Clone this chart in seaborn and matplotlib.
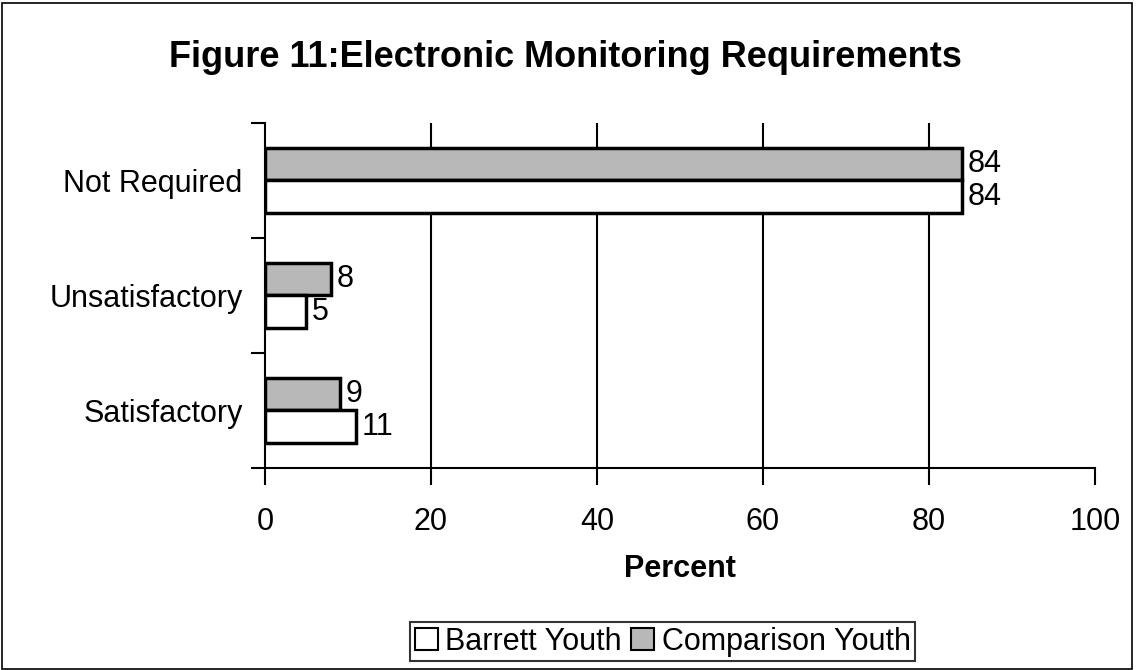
import pandas as pd
import seaborn as sns
import matplotlib.pyplot as plt
from matplotlib.patches import Patch, Rectangle

categories = ["Not Required", "Unsatisfactory", "Satisfactory"]
barrett = [84, 5, 11]
comparison = [84, 8, 9]
groups = ["Comparison Youth", "Barrett Youth"]
x_ticks = [0, 20, 40, 60, 80, 100]

sns.set_style("white")
plt.rcParams["font.family"] = ["Liberation Sans", "DejaVu Sans"]
plt.rcParams["text.color"] = "black"
plt.rcParams["xtick.color"] = "black"
plt.rcParams["ytick.color"] = "black"
plt.rcParams["axes.labelcolor"] = "black"

df = pd.DataFrame({
    "category": categories * 2,
    "group": [groups[0]] * 3 + [groups[1]] * 3,
    "value": comparison + barrett,
})

gray = "#b8b8b8"
colors = {"Comparison Youth": gray, "Barrett Youth": "white"}

fig = plt.figure(figsize=(11.37, 6.70), dpi=100)
ax = fig.add_axes([0.233, 0.3015, 0.730, 0.515])

sns.barplot(data=df, x="value", y="category", hue="group", hue_order=groups,
            order=categories, palette=colors, orient="h", width=0.57,
            edgecolor="black", linewidth=2.5, saturation=1, legend=False, ax=ax)

for cont in ax.containers:
    ax.bar_label(cont, fmt="%d", padding=4, fontsize=22)

ax.set_xlim(0, 100)
ax.set_ylim(2.5, -0.5)
ax.set_xticks(x_ticks)
ax.set_yticks([-0.5, 0.5, 1.5, 2.5], minor=True)
ax.tick_params(axis="y", which="major", length=0, labelsize=22, pad=16)
ax.tick_params(axis="y", which="minor", length=10, width=1.5, direction="out", left=True)
ax.tick_params(axis="x", length=12, width=1.5, direction="out", bottom=True, labelsize=22, pad=16)
for v in x_ticks[1:-1]:
    ax.axvline(v, color="black", lw=1.5, zorder=0)

for side in ["top", "right"]:
    ax.spines[side].set_visible(False)
for side in ["left", "bottom"]:
    ax.spines[side].set_color("black")
    ax.spines[side].set_linewidth(1.5)

ax.set_xlabel("Percent", fontsize=22, fontweight="bold", labelpad=12)
ax.set_ylabel("")

fig.suptitle("Figure 11:Electronic Monitoring Requirements", fontsize=26,
             fontweight="bold", x=0.497, y=0.94)

handles = [Patch(facecolor="white", edgecolor="black", lw=1.5, label="Barrett Youth"),
           Patch(facecolor=gray, edgecolor="black", lw=1.5, label="Comparison Youth")]
leg = fig.legend(handles=handles, loc="center", bbox_to_anchor=(0.583, 0.042), ncol=2,
                 fontsize=22, frameon=True, fancybox=False, handlelength=0.75,
                 handleheight=0.75, handletextpad=0.25, columnspacing=0.3,
                 borderpad=0.15, borderaxespad=0)
leg.get_frame().set_edgecolor("black")
leg.get_frame().set_linewidth(1.5)

fig.patches.append(Rectangle((0.002, 0.002), 0.994, 0.994, transform=fig.transFigure,
                             fill=False, edgecolor="black", lw=1.2))

fig.savefig("out.png", dpi=100)
